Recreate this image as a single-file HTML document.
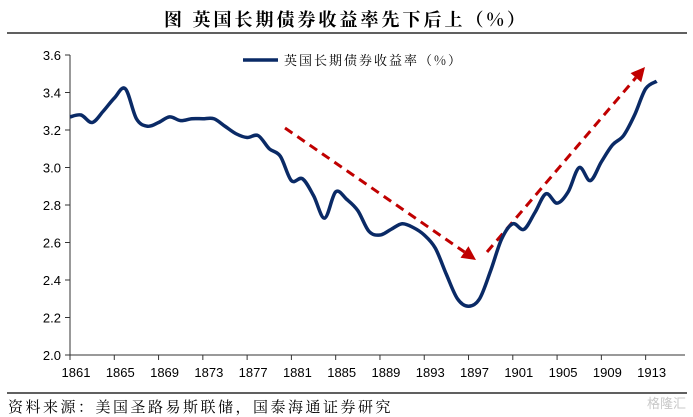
<!DOCTYPE html>
<html><head><meta charset="utf-8">
<style>
body{margin:0;background:#fff;width:693px;height:417px;overflow:hidden;font-family:"Liberation Sans","Noto Serif CJK SC",serif;}
svg{display:block}
</style></head>
<body>
<svg width="693" height="417" id="chart">
<text x="346" y="26" text-anchor="middle" font-family="'Noto Serif CJK SC','Noto Sans CJK SC',serif" font-weight="bold" font-size="18" letter-spacing="3">图  英国长期债券收益率先下后上（%）</text>
<line x1="7" y1="33" x2="687" y2="33" stroke="#000" stroke-width="1.3"/>
<line x1="7" y1="393" x2="687" y2="393" stroke="#000" stroke-width="1.3"/>
<text x="8" y="412" font-family="'Noto Serif CJK SC',serif" font-size="15" letter-spacing="2.5">资料来源：美国圣路易斯联储，国泰海通证券研究</text>
<text x="686" y="408" text-anchor="end" font-family="'Noto Sans CJK SC',sans-serif" font-size="13" fill="#c8c8c8">格隆汇</text>
<g id="axes"></g>
<g id="arrows"></g>
<g id="series"></g>
<g>
<line x1="243" y1="60" x2="278" y2="60" stroke="#0a2a66" stroke-width="3.5"/>
<text x="284" y="65" font-family="'Noto Serif CJK SC',serif" font-size="13" letter-spacing="2">英国长期债券收益率（%）</text>
</g>
</svg>
<script>
const years=[1861,1862,1863,1864,1865,1866,1867,1868,1869,1870,1871,1872,1873,1874,1875,1876,1877,1878,1879,1880,1881,1882,1883,1884,1885,1886,1887,1888,1889,1890,1891,1892,1893,1894,1895,1896,1897,1898,1899,1900,1901,1902,1903,1904,1905,1906,1907,1908,1909,1910,1911,1912,1913,1914];
const yields=[3.27,3.28,3.24,3.30,3.37,3.42,3.26,3.22,3.24,3.27,3.25,3.26,3.26,3.26,3.22,3.18,3.16,3.17,3.10,3.06,2.93,2.94,2.85,2.73,2.87,2.83,2.77,2.66,2.64,2.67,2.70,2.68,2.64,2.57,2.43,2.30,2.26,2.30,2.45,2.62,2.70,2.67,2.76,2.86,2.81,2.87,3.00,2.93,3.03,3.12,3.17,3.28,3.42,3.46];
const yTicks=[2.0,2.2,2.4,2.6,2.8,3.0,3.2,3.4,3.6];
const xTickYears=[1861,1865,1869,1873,1877,1881,1885,1889,1893,1897,1901,1905,1909,1913];
const NS="http://www.w3.org/2000/svg";
const X=yr=>70+(yr-1861)*11.07;
const Y=v=>355-(v-2)*187.5;
function mk(tag,attrs,parent){const e=document.createElementNS(NS,tag);for(const k in attrs)e.setAttribute(k,attrs[k]);parent.appendChild(e);return e;}
const ax=document.getElementById('axes');
let e=mk('line',{x1:70,y1:Y(3.6),x2:70,y2:355,stroke:'#333','stroke-width':1},ax);


e=mk('line',{x1:70,y1:355,x2:685,y2:355,stroke:'#333','stroke-width':1},ax);


yTicks.forEach(v=>{
 mk('line',{x1:65,y1:Y(v),x2:70,y2:Y(v),stroke:'#333'},ax);
 const t=mk('text',{x:61,y:Y(v)+5,'text-anchor':'end','font-size':13},ax);
 t.textContent=v.toFixed(1);
 
 
});
xTickYears.forEach(yr=>{
 mk('line',{x1:X(yr),y1:355,x2:X(yr),y2:360,stroke:'#333'},ax);
 const t=mk('text',{x:X(yr)+6,y:377,'text-anchor':'middle','font-size':13},ax);
 t.textContent=yr;
 
 
});
const pts=years.map((yr,i)=>[X(yr),Y(yields[i])]);
let d='M'+pts[0][0]+','+pts[0][1];
for(let i=0;i<pts.length-1;i++){
 const p0=pts[Math.max(0,i-1)],p1=pts[i],p2=pts[i+1],p3=pts[Math.min(pts.length-1,i+2)];
 const c1=[p1[0]+(p2[0]-p0[0])/6,p1[1]+(p2[1]-p0[1])/6];
 const c2=[p2[0]-(p3[0]-p1[0])/6,p2[1]-(p3[1]-p1[1])/6];
 d+=` C${c1[0]},${c1[1]} ${c2[0]},${c2[1]} ${p2[0]},${p2[1]}`;
}
const ser=document.getElementById('series');
e=mk('path',{d:d,fill:'none',stroke:'#0a2a66','stroke-width':3.5,'stroke-linejoin':'round'},ser);


const ar=document.getElementById('arrows');
function arrow(x1,y1,x2,y2,name){
 const g=mk('g',{},ar);
 
 
 const ang=Math.atan2(y2-y1,x2-x1),L=14,W=7;
 const bx=x2-L*Math.cos(ang),by=y2-L*Math.sin(ang);
 mk('line',{x1:x1,y1:y1,x2:bx,y2:by,stroke:'#c00000','stroke-width':3,'stroke-dasharray':'9,6'},g);
 const px=-Math.sin(ang)*W,py=Math.cos(ang)*W;
 mk('polygon',{points:`${x2},${y2} ${bx+px},${by+py} ${bx-px},${by-py}`,fill:'#c00000'},g);
}
arrow(285,128,476,260,'downtrend-arrow');
arrow(487,252,645,67,'uptrend-arrow');
</script>
</body></html>
